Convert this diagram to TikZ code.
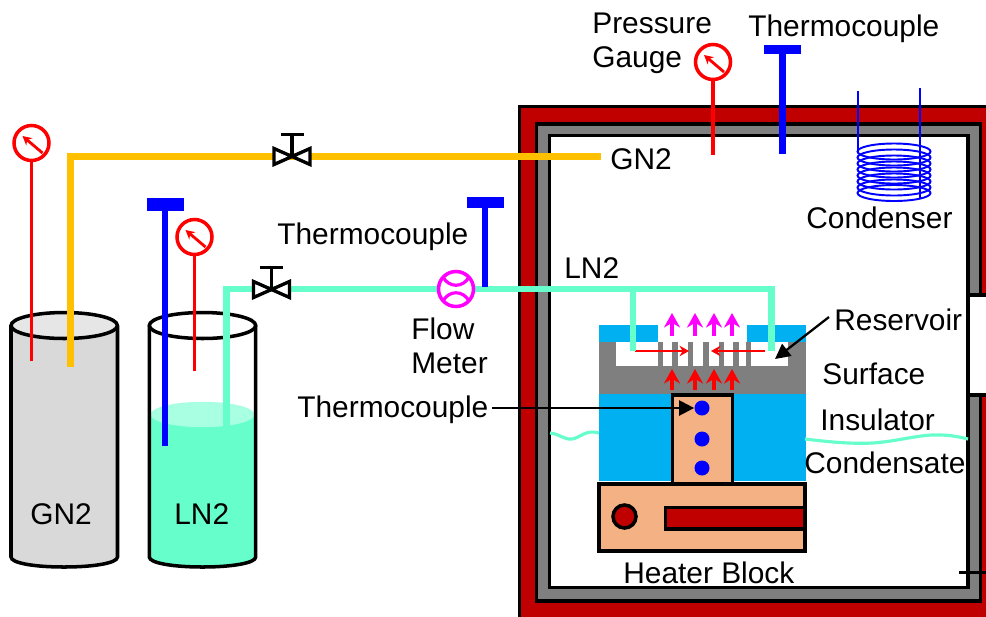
\documentclass[tikz,border=0pt]{standalone}
\usepackage{fontspec}
\setmainfont{Liberation Sans}
\usetikzlibrary{arrows.meta}
\definecolor{wallred}{HTML}{C00000}
\definecolor{wallgray}{HTML}{7F7F7F}
\definecolor{gasgold}{HTML}{FFC000}
\definecolor{lntwo}{HTML}{66FFCC}
\definecolor{lnlight}{HTML}{A8FFE2}
\definecolor{gngray}{HTML}{D9D9D9}
\definecolor{gnlight}{HTML}{E6E6E6}
\definecolor{condblue}{HTML}{00B0F0}
\definecolor{copper}{HTML}{F4B183}
\definecolor{probeblue}{HTML}{0000FF}
\definecolor{meter}{HTML}{FF00FF}
\tikzset{
  lbl/.style={font=\fontsize{17}{20}\selectfont, anchor=base west, inner sep=0pt, text=black, xshift=-0.02cm, yshift=-0.02cm},
  wall/.style={draw=black, line width=2pt},
  tank/.style={draw=black, line width=2pt},
  gasline/.style={line width=3.6pt, line join=miter},
  redline/.style={red, line width=1.9pt},
  valve/.style={draw=black, line width=1.9pt, line join=miter},
  heatup/.style={-{Stealth[length=2.9mm, width=3.2mm]}, line width=2.1pt},
  thinarrow/.style={-{Triangle[length=3mm, width=3mm]}, black, line width=1.3pt},
  bluedot/.style={circle, fill=probeblue, inner sep=0pt, minimum size=15*0.02cm}
}
\begin{document}
\begin{tikzpicture}[x=0.02cm, y=-0.02cm]

\useasboundingbox (0,0) rectangle (986,616);
\clip (0,0) rectangle (986,616);

% ================================================================
% CHAMBER: wall layers run off the right and bottom edges
% ================================================================
\fill[white] (0,0) rectangle (986,616);
\filldraw[wall, fill=wallred] (519.5,106.5) rectangle (1010,640);
\filldraw[wall, fill=wallgray] (536.5,124) rectangle (980.5,601);
\filldraw[wall, fill=white] (549.5,135.5) rectangle (968,587.5);

% Window in the right wall
\filldraw[wall, fill=white] (968,295) rectangle (1010,395);
\draw[black, line width=1.7pt] (959,572) -- (1000,572);

% ================================================================
% TANKS
% ================================================================
% GN2 tank
\fill[gngray] (11,326) -- (11,557) .. controls (11,563) and (34,567) .. (64,567)
  .. controls (94,567) and (117.5,563) .. (117.5,557) -- (117.5,326) -- cycle;
\filldraw[tank, fill=gnlight] (64.2,325.5) ellipse (53.2 and 13);
\draw[tank] (11,326) -- (11,557) .. controls (11,563) and (34,567) .. (64,567)
  .. controls (94,567) and (117.5,563) .. (117.5,557) -- (117.5,326);

% LN2 tank, liquid up to y=415
\fill[lntwo] (150,415) -- (150,557) .. controls (150,563) and (173,567) .. (202.5,567)
  .. controls (232,567) and (255.5,563) .. (255.5,557) -- (255.5,415) -- cycle;
\fill[lnlight] (202.5,414.5) ellipse (52 and 12.7);
\draw[tank] (202.5,325.5) ellipse (53.2 and 13);
\draw[tank] (149.3,326) -- (149.3,557) .. controls (149.3,563) and (173,567) .. (202.5,567)
  .. controls (232,567) and (255.7,563) .. (255.7,557) -- (255.7,326);

\node[lbl] (gntank) at (31,523) {GN2};
\node[lbl] (lntank) at (175,523) {LN2};

% ================================================================
% TEST ASSEMBLY
% ================================================================
\fill[condblue] (599,325) rectangle (658,343);
\fill[condblue] (747,325) rectangle (806,343);
\fill[condblue] (599,394) rectangle (806,481);
\fill[wallgray] (599,342) rectangle (806,394);
\fill[white] (616,342) rectangle (788,366);

% Fins
\foreach \fl/\fr in {658/663, 672/678, 688/693, 703/709, 719/724, 733/739, 746/751} {
  \fill[wallgray] (\fl,342) rectangle (\fr,366);
}

% Heater block
\filldraw[tank, fill=copper] (672.5,395) rectangle (732.5,484);
\filldraw[tank, fill=copper] (599,484) rectangle (805,551);
\filldraw[tank, fill=wallred] (665.5,507.5) rectangle (805,529);
\filldraw[tank, fill=wallred] (624.5,516.5) circle (11.5);
\node[bluedot] (tcone) at (702,408) {};
\node[bluedot] (tctwo) at (702,439) {};
\node[bluedot] (tcthree) at (702,468) {};

% Red arrows: heat up through the surface, liquid in from both sides
\foreach \ax in {672, 695, 714, 732} {
  \draw[heatup, red] (\ax,390) -- (\ax,369);
  \draw[heatup, meter] (\ax,336) -- (\ax,313);
}
\draw[-{Stealth[length=1.9mm, width=2.1mm]}, red, line width=1.5pt] (635,351) -- (689,351);
\draw[-{Stealth[length=1.9mm, width=2.1mm]}, red, line width=1.5pt] (765,351) -- (711,351);

% ================================================================
% PIPES
% ================================================================
\draw[gasline, gasgold] (70.5,367) -- (70.5,156.5) -- (601,156.5);
\draw[gasline, lntwo] (226.5,427) -- (226.5,289) -- (771.5,289) -- (771.5,351);
\draw[gasline, lntwo] (633,289) -- (633,351);

% Wicks
\draw[lntwo, line width=1.8pt] (550,433) .. controls (560,434) and (564,440) .. (572,439)
  .. controls (580,438) and (586,429) .. (599,433);
\draw[lntwo, line width=1.8pt] (805,439) .. controls (830,442) and (850,444) .. (873,443)
  .. controls (900,441) and (920,434) .. (940,435) .. controls (950,435) and (960,437) .. (968,439);

% Valves
\foreach \vx/\vy in {292/156.5, 271.5/289.5} {
  \draw[valve] (\vx,\vy) -- (\vx,\vy-22);
  \draw[valve] (\vx-11.5,\vy-22) -- (\vx+11.5,\vy-22);
  \filldraw[valve, fill=white] (\vx,\vy) -- (\vx-18,\vy-8) -- (\vx-18,\vy+8) -- cycle;
  \filldraw[valve, fill=white] (\vx,\vy) -- (\vx+18,\vy-8) -- (\vx+18,\vy+8) -- cycle;
}

% Flow meter
\filldraw[draw=meter, fill=white, line width=2pt] (456,289) circle (17.5);
\draw[meter, line width=1.8pt] (443,277) .. controls (449,288) and (463,288) .. (469,277);
\draw[meter, line width=1.8pt] (443,301) .. controls (449,290) and (463,290) .. (469,301);

% ================================================================
% PROBES
% ================================================================
% Pressure gauges: centre x, centre y, end of stem
\foreach \gx/\gy/\gend in {31.5/143/361, 194.5/237/371, 713/62/155} {
  \draw[redline] (\gx,\gy+18) -- (\gx,\gend);
  \filldraw[draw=red, fill=white, line width=2pt] (\gx,\gy) circle (17.5);
  \draw[-{Stealth[length=1.8mm, width=1.9mm]}, red, line width=1.6pt]
    (\gx+11,\gy+10) -- (\gx-9,\gy-7);
}

% Thermocouples: x, bar top, bar bottom, end of stem, stem width
\foreach \tx/\tt/\tb/\tend/\tw in {165/198/211/446/3.3pt, 485/197/208/287/3.3pt, 782.5/45/54/154/4pt} {
  \fill[probeblue] (\tx-18.5,\tt) rectangle (\tx+18.5,\tb);
  \draw[probeblue, line width=\tw] (\tx,\tb) -- (\tx,\tend);
}

% Condenser coil
\draw[probeblue, line width=1.1pt] (858,91) -- (858,153);
\draw[probeblue, line width=1.1pt] (920,88) -- (920,198);
\foreach \cy in {151.5, 157.5, 163.5, 169.5, 175.5, 181.5, 187.5, 193} {
  \draw[probeblue, line width=1.1pt] (894,\cy) ellipse (36.5 and 8);
}

% ================================================================
% LABELS
% ================================================================
\node[lbl] (pglabel) at (593,32) {Pressure};
\node[lbl] (pglabeltwo) at (593,66) {Gauge};
\node[lbl] (tctop) at (749,35) {Thermocouple};
\node[lbl] (gnpipe) at (611,168) {GN2};
\node[lbl] (condenser) at (807,227) {Condenser};
\node[lbl] (tcleft) at (278,243) {Thermocouple};
\node[lbl] (lnpipe) at (565,277) {LN2};
\node[lbl] (flow) at (412,338) {Flow};
\node[lbl] (flowtwo) at (412,372) {Meter};
\node[lbl] (reservoir) at (835,329) {Reservoir};
\node[lbl] (surface) at (823,383) {Surface};
\node[lbl] (insulator) at (821,429) {Insulator};
\node[lbl] (condensate) at (805,472) {Condensate};
\node[lbl] (tcmid) at (298,416) {Thermocouple};
\node[lbl] (heater) at (624,582) {Heater Block};

% Pointers
\coordinate (resstart) at (829,317);
\coordinate (restip) at (775,359);
\coordinate (tcstart) at (492,408);
\draw[thinarrow] (resstart) -- (restip);
\draw[thinarrow] (tcstart) -- (tcone);

\end{tikzpicture}
\end{document}
